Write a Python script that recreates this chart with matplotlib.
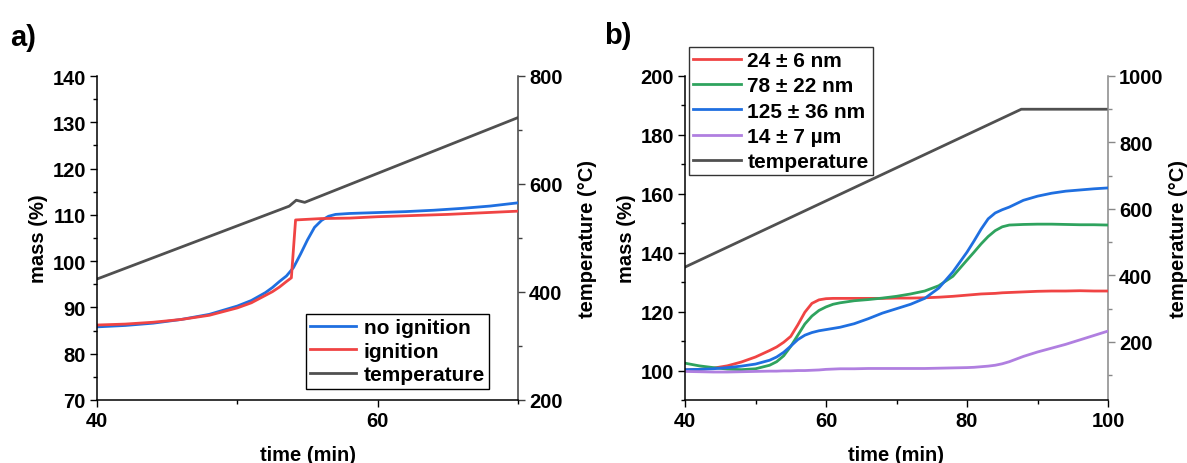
import matplotlib
matplotlib.use("Agg")
import matplotlib.pyplot as plt
from matplotlib.ticker import MultipleLocator

plt.rcParams['font.family'] = ['Liberation Sans', 'DejaVu Sans']
plt.rcParams['font.weight'] = 'bold'

# ---------------- panel a data ----------------
a_temp_t = [40, 53.7, 54.2, 54.8, 70]
a_temp = [424, 559, 570, 566, 723]

a_noig_t = [40, 42, 44, 46, 48, 50, 51, 52, 52.5, 53, 53.5, 54, 54.5, 55, 55.5,
            56, 56.5, 57, 58, 60, 62, 64, 66, 68, 70]
a_noig = [85.8, 86.1, 86.6, 87.4, 88.5, 90.3, 91.5, 93.2, 94.3, 95.6, 96.8, 98.6,
          101.5, 104.6, 107.3, 108.8, 109.7, 110.1, 110.3, 110.5, 110.7, 111.0,
          111.4, 111.9, 112.6]

a_ig_t = [40, 42, 44, 46, 48, 50, 51, 52, 52.5, 53, 53.5, 53.85, 54.15, 56, 58,
          60, 65, 70]
a_ig = [86.2, 86.4, 86.8, 87.4, 88.3, 89.9, 91.0, 92.6, 93.4, 94.4, 95.6, 96.4,
        108.9, 109.2, 109.3, 109.6, 110.1, 110.8]

# ---------------- panel b data ----------------
b_t = [40, 42, 44, 46, 48, 50, 52, 53, 54, 55, 56, 57, 58, 59, 60, 61, 62, 64,
       66, 68, 70, 72, 74, 76, 78, 80, 81, 82, 83, 84, 85, 86, 88, 90, 92, 94,
       96, 98, 100]
b_24nm = [100.2, 100.4, 100.8, 101.6, 102.9, 104.6, 106.8, 108.0, 109.6, 111.6,
          115.5, 119.8, 122.8, 124.0, 124.4, 124.5, 124.5, 124.5, 124.5, 124.5,
          124.6, 124.6, 124.7, 124.9, 125.2, 125.6, 125.8, 126.0, 126.1, 126.2,
          126.4, 126.5, 126.7, 126.9, 127.0, 127.0, 127.1, 127.0, 127.0]
b_78nm = [102.5, 101.6, 101.0, 100.5, 100.3, 100.6, 101.8, 103.0, 105.0, 108.2,
          112.0, 115.8, 118.5, 120.4, 121.6, 122.5, 123.0, 123.7, 124.1, 124.6,
          125.2, 126.0, 127.0, 128.8, 132.0, 137.5, 140.2, 143.0, 145.5, 147.5,
          148.8, 149.4, 149.6, 149.7, 149.7, 149.6, 149.5, 149.5, 149.4]
b_125nm = [100.3, 100.4, 100.6, 101.0, 101.5, 102.2, 103.5, 104.6, 106.2, 108.3,
           110.5, 112.0, 112.9, 113.5, 113.9, 114.3, 114.7, 115.9, 117.6, 119.5,
           121.0, 122.5, 124.5, 128.0, 133.5, 140.2, 144.0, 148.0, 151.5, 153.5,
           154.6, 155.5, 157.8, 159.2, 160.2, 160.9, 161.3, 161.7, 162.0]
b_14um = [99.7, 99.6, 99.5, 99.5, 99.6, 99.7, 99.8, 99.8, 99.9, 99.9, 100.0,
          100.0, 100.1, 100.2, 100.4, 100.5, 100.6, 100.6, 100.7, 100.7, 100.7,
          100.7, 100.7, 100.8, 100.9, 101.0, 101.1, 101.3, 101.5, 101.8, 102.3,
          103.0, 104.8, 106.3, 107.6, 108.9, 110.4, 111.9, 113.4]
b_temp_t = [40, 87.7, 100]
b_temp = [425, 900, 900]

c_red = '#f04444'
c_green = '#2fa35e'
c_blue = '#1f6fe0'
c_purple = '#b07fe0'
c_gray = '#505050'

FS = 14.5
LFS = 15
LW = 2.0

fig = plt.figure(figsize=(11.87, 4.64), dpi=100)
W, H = 1187, 464


def box(l, r, t, b):
    return [l / W, 1 - b / H, (r - l) / W, (b - t) / H]


def style(ax):
    ax.spines['top'].set_visible(False)
    for s in ['left', 'bottom']:
        ax.spines[s].set_linewidth(1.1)
        ax.spines[s].set_color('black')
    ax.spines['right'].set_visible(False)
    ax.tick_params(axis='both', which='major', direction='out', length=5,
                   width=1.0, labelsize=FS, pad=3)
    ax.tick_params(axis='both', which='minor', direction='out', length=3,
                   width=1.0)
    for lab in ax.get_xticklabels() + ax.get_yticklabels():
        lab.set_fontweight('bold')


def style_right(ax2, color):
    for s in ['top', 'left', 'bottom']:
        ax2.spines[s].set_visible(False)
    ax2.spines['right'].set_color(color)
    ax2.spines['right'].set_linewidth(1.1)
    ax2.tick_params(axis='y', which='major', direction='out', length=5,
                    width=1.0, labelsize=FS, pad=3, color=color)
    ax2.tick_params(axis='y', which='minor', direction='out', length=3,
                    width=1.0, color=color)
    for lab in ax2.get_yticklabels():
        lab.set_fontweight('bold')


# ---------------- panel a ----------------
axa = fig.add_axes(box(97, 518, 77, 401))
axa2 = axa.twinx()
axa.set_zorder(axa2.get_zorder() + 1)
axa.patch.set_visible(False)

l_t_a, = axa2.plot(a_temp_t, a_temp, color=c_gray, lw=LW)
l_noig, = axa.plot(a_noig_t, a_noig, color=c_blue, lw=LW)
l_ig, = axa.plot(a_ig_t, a_ig, color=c_red, lw=LW)

axa.set_xlim(40, 70)
axa.set_ylim(70, 140)
axa2.set_ylim(200, 800)
axa.xaxis.set_major_locator(MultipleLocator(20))
axa.xaxis.set_minor_locator(MultipleLocator(10))
axa.yaxis.set_major_locator(MultipleLocator(10))
axa.yaxis.set_minor_locator(MultipleLocator(5))
axa2.yaxis.set_major_locator(MultipleLocator(200))
axa2.yaxis.set_minor_locator(MultipleLocator(100))
style(axa)
style_right(axa2, '#404040')
axa.set_xlabel('time (min)', fontsize=FS, fontweight='bold', labelpad=10.5)
axa.set_ylabel('mass (%)', fontsize=FS, fontweight='bold', labelpad=3)
axa2.set_ylabel('temperature (°C)', fontsize=FS, fontweight='bold', labelpad=11)

lega = axa.legend([l_noig, l_ig, l_t_a], ['no ignition', 'ignition', 'temperature'],
                  loc='upper right', bbox_to_anchor=(489 / W, 1 - 315 / H),
                  bbox_transform=fig.transFigure, borderaxespad=0,
                  fancybox=False, framealpha=1, edgecolor='black',
                  prop={'size': LFS, 'weight': 'bold'}, handlelength=2.2,
                  handletextpad=0.35, labelspacing=0.22, borderpad=0.2)
lega.get_frame().set_linewidth(1.0)

fig.text(10 / W, 1 - 38 / H, 'a)', fontsize=21, fontweight='bold',
         va='center', ha='left')

# ---------------- panel b ----------------
axb = fig.add_axes(box(685, 1108, 77, 401))
axb2 = axb.twinx()
axb.set_zorder(axb2.get_zorder() + 1)
axb.patch.set_visible(False)

l_t_b, = axb2.plot(b_temp_t, b_temp, color=c_gray, lw=LW)
l1, = axb.plot(b_t, b_24nm, color=c_red, lw=LW)
l2, = axb.plot(b_t, b_78nm, color=c_green, lw=LW)
l3, = axb.plot(b_t, b_125nm, color=c_blue, lw=LW)
l4, = axb.plot(b_t, b_14um, color=c_purple, lw=LW)

axb.set_xlim(40, 100)
axb.set_ylim(90, 200)
axb2.set_ylim(25, 1000)
axb.xaxis.set_major_locator(MultipleLocator(20))
axb.xaxis.set_minor_locator(MultipleLocator(10))
axb.yaxis.set_major_locator(MultipleLocator(20))
axb.yaxis.set_minor_locator(MultipleLocator(10))
axb2.yaxis.set_major_locator(MultipleLocator(200))
axb2.yaxis.set_minor_locator(MultipleLocator(100))
style(axb)
style_right(axb2, '#888888')
axb.set_xlabel('time (min)', fontsize=FS, fontweight='bold', labelpad=10.5)
axb.set_ylabel('mass (%)', fontsize=FS, fontweight='bold', labelpad=3)
axb2.set_ylabel('temperature (°C)', fontsize=FS, fontweight='bold', labelpad=4)

legb = axb.legend([l1, l2, l3, l4, l_t_b],
                  ['24 ± 6 nm', '78 ± 22 nm', '125 ± 36 nm', '14 ± 7 µm', 'temperature'],
                  loc='upper left', bbox_to_anchor=(689 / W, 1 - 48 / H),
                  bbox_transform=fig.transFigure, borderaxespad=0,
                  fancybox=False, framealpha=1, edgecolor='#333333',
                  prop={'size': LFS, 'weight': 'bold'}, handlelength=2.3,
                  handletextpad=0.3, labelspacing=0.3, borderpad=0.2)
legb.get_frame().set_linewidth(1.0)

fig.text(604 / W, 1 - 36 / H, 'b)', fontsize=21, fontweight='bold',
         va='center', ha='left')

fig.savefig('out.png', dpi=100)
